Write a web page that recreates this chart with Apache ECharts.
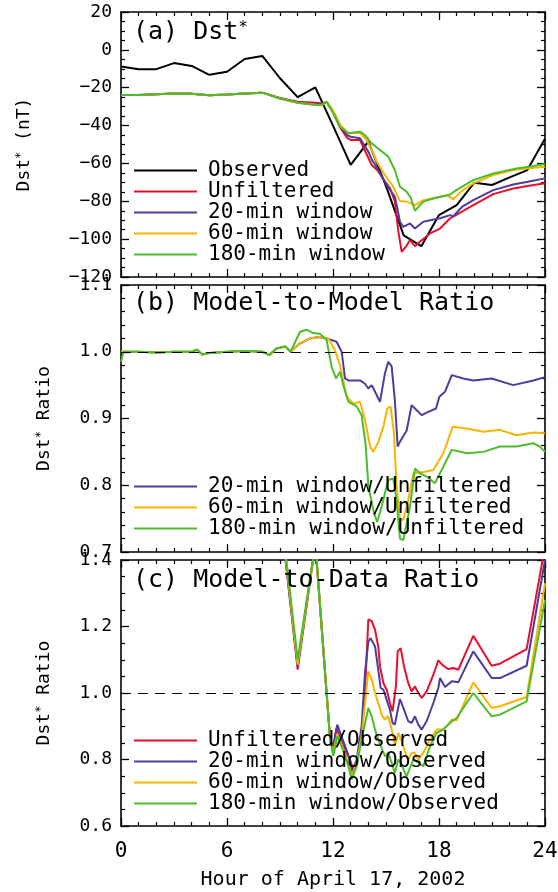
<!DOCTYPE html>
<html><head><meta charset="utf-8">
<script src="https://cdn.jsdelivr.net/npm/echarts@6/dist/echarts.min.js"></script>
<style>html,body{margin:0;padding:0;background:#fff}#c{width:558px;height:892px}</style>
</head><body><div id="c"></div>
<script>
// ---------- DATA ----------
const obsHours = [0,1,2,3,4,5,6,7,8,9,10,11,12,13,14,15,16,17,18,19,20,21,22,23,24];
const obsDst = [-8.8,-10.2,-10.2,-7.0,-8.5,-13.2,-11.6,-4.8,-3.2,-15.0,-25.0,-19.8,-40.0,-60.8,-48.5,-72.0,-98.0,-103.7,-87.3,-82.0,-70.2,-71.4,-67.4,-63.5,-47.0];

const unfDst = [[0,-23.8],[1,-23.9],[2,-23.5],[3,-23.0],[4,-23.2],[5,-24.0],[6,-23.6],[7,-23.0],[8,-22.6],[9,-25.4],[10,-27.4],[11,-28.0],[11.4,-28.4],[11.64,-27.4],[12.0,-33.0],[12.4,-41.0],[12.8,-46.5],[13.0,-47.6],[13.53,-47.6],[13.9,-55.0],[14.2,-61.0],[14.5,-63.5],[14.9,-69.0],[15.23,-73.2],[15.5,-80.0],[15.7,-96.0],[15.89,-106.7],[16.13,-104.0],[16.36,-100.5],[16.64,-103.7],[16.92,-101.4],[17.49,-97.0],[18.06,-94.4],[18.63,-89.0],[19.3,-85.5],[19.94,-82.0],[21.07,-76.2],[22.2,-73.2],[23.1,-71.8],[24,-70.5]];
const win20Dst = [[0,-23.8],[1,-23.9],[2,-23.5],[3,-23.0],[4,-23.2],[5,-24.0],[6,-23.6],[7,-23.0],[8,-22.6],[9,-25.6],[10,-27.8],[11,-28.8],[11.4,-29.0],[11.64,-27.4],[12.0,-32.5],[12.4,-40.0],[12.8,-45.0],[13.0,-45.9],[13.53,-46.7],[14.0,-53.8],[14.2,-58.0],[14.47,-62.0],[15.04,-71.4],[15.5,-77.6],[15.65,-84.0],[15.79,-90.8],[15.98,-93.5],[16.36,-91.7],[16.64,-94.4],[17.11,-90.8],[17.5,-90.0],[18.06,-89.0],[18.63,-87.3],[18.8,-88.0],[19.3,-83.0],[19.94,-79.4],[21.07,-74.1],[22.2,-71.1],[23.1,-69.5],[24,-67.9]];
const win60Dst = [[0,-23.8],[1,-23.9],[2,-23.5],[3,-23.0],[4,-23.2],[5,-24.0],[6,-23.6],[7,-23.0],[8,-22.6],[9,-25.7],[10,-27.9],[11,-29.0],[11.4,-29.1],[11.64,-27.4],[12.0,-31.8],[12.4,-39.5],[12.87,-44.0],[13.53,-43.8],[13.9,-47.6],[14.2,-53.0],[14.47,-59.0],[14.94,-66.1],[15.41,-72.3],[15.79,-79.9],[16.17,-80.2],[16.64,-82.0],[17.11,-79.4],[18.06,-77.6],[18.5,-77.0],[18.8,-79.0],[19.3,-74.5],[19.94,-70.5],[21.07,-66.1],[22.2,-63.5],[23.1,-62.5],[24,-61.7]];
const win180Dst = [[0,-23.8],[1,-23.9],[2,-23.5],[3,-23.0],[4,-23.2],[5,-24.0],[6,-23.6],[7,-23.0],[8,-22.6],[9,-25.8],[10,-28.0],[11,-29.1],[11.3,-29.2],[11.64,-27.6],[12.02,-33.5],[12.4,-40.6],[12.87,-44.1],[13.53,-43.2],[13.81,-45.0],[14.19,-49.4],[14.66,-52.9],[15.13,-56.4],[15.5,-63.5],[15.79,-72.3],[16.17,-75.0],[16.4,-78.0],[16.64,-85.0],[17.11,-80.2],[17.68,-78.5],[18.63,-76.4],[19.0,-74.0],[19.94,-68.8],[21.07,-65.3],[22.2,-63.0],[23.34,-61.4],[24,-60.3]];

const r20Unf = [[0,1.0],[1,1.0],[2,0.999],[3,1.0],[4,1.0],[4.3,1.003],[4.6,0.996],[5,0.998],[6,1.0],[7,1.001],[8,1.0],[8.4,0.995],[8.8,1.005],[9.3,1.008],[9.6,1.0],[10.1,1.012],[10.7,1.02],[11.2,1.022],[11.64,1.02],[12.2,1.015],[12.49,1.0],[12.68,0.96],[12.87,0.957],[13.53,0.957],[13.81,0.952],[14.0,0.945],[14.19,0.95],[14.38,0.94],[14.66,0.925],[14.94,0.9675],[15.13,0.985],[15.32,0.978],[15.5,0.928],[15.66,0.858],[15.79,0.865],[16.17,0.882],[16.45,0.92],[16.64,0.915],[17.02,0.905],[17.39,0.91],[17.83,0.915],[18.02,0.9325],[18.34,0.94],[18.72,0.965],[19.38,0.96],[19.94,0.957],[20.98,0.96],[22.2,0.95],[23.34,0.957],[24,0.962]];
const r60Unf = [[0,1.0],[1,1.0],[2,0.999],[3,1.0],[4,1.0],[4.3,1.003],[4.6,0.996],[5,0.998],[6,1.0],[7,1.001],[8,1.0],[8.4,0.995],[8.8,1.005],[9.3,1.008],[9.6,1.0],[10.13,1.0125],[10.7,1.02],[11.2,1.022],[11.73,1.02],[12.11,1.0025],[12.4,0.98],[12.77,0.9325],[13.15,0.922],[13.53,0.925],[13.81,0.898],[14.1,0.858],[14.28,0.85],[14.57,0.865],[14.85,0.8875],[15.07,0.915],[15.26,0.918],[15.45,0.878],[15.6,0.798],[15.79,0.75],[15.98,0.748],[16.26,0.778],[16.55,0.818],[17.11,0.82],[17.68,0.823],[18.25,0.848],[18.77,0.8875],[19.57,0.885],[20.51,0.88],[21.45,0.883],[22.39,0.875],[23.34,0.879],[24,0.878]];
const r180Unf = [[0,0.985],[0.15,1.0],[1,1.0],[2,0.999],[3,1.0],[4,1.0],[4.3,1.003],[4.6,0.996],[5,0.998],[6,1.0],[7,1.001],[8,1.0],[8.4,0.995],[8.8,1.005],[9.3,1.008],[9.6,1.0],[10.13,1.03],[10.5,1.033],[10.88,1.028],[11.26,1.027],[11.64,1.0175],[11.92,0.9775],[12.17,0.96],[12.4,0.97],[12.58,0.95],[12.87,0.925],[13.34,0.918],[13.62,0.905],[13.85,0.86],[14.0,0.8],[14.3,0.76],[14.5,0.745],[14.75,0.768],[15.13,0.808],[15.41,0.81],[15.6,0.777],[15.79,0.72],[15.98,0.718],[16.36,0.768],[16.64,0.825],[16.92,0.818],[17.3,0.813],[17.77,0.803],[18.25,0.828],[18.72,0.853],[19.57,0.848],[20.51,0.85],[21.45,0.858],[22.39,0.858],[23.34,0.863],[23.7,0.858],[24,0.85]];

const rUnfObs = [[9,1.55],[10,1.07],[11,1.45],[11.83,0.865],[12.0,0.83],[12.2,0.895],[12.58,0.84],[12.96,0.80],[13.15,0.77],[13.34,0.79],[13.62,0.87],[13.81,1.0],[14.0,1.221],[14.19,1.216],[14.38,1.19],[14.56,1.14],[14.66,1.08],[14.85,1.03],[15.04,1.01],[15.22,0.97],[15.37,0.945],[15.56,1.02],[15.66,1.125],[15.83,1.135],[16.02,1.08],[16.26,1.03],[16.45,1.005],[16.64,1.02],[16.83,1.0],[17.02,0.985],[17.3,1.005],[17.68,1.055],[17.96,1.098],[18.24,1.082],[18.53,1.072],[18.81,1.075],[19.09,1.07],[19.94,1.172],[20.98,1.082],[21.45,1.088],[22.96,1.132],[24,1.44]];
const r20Obs = [[9,1.55],[10,1.08],[11,1.45],[11.83,0.865],[12.0,0.835],[12.24,0.905],[12.58,0.855],[12.96,0.80],[13.05,0.76],[13.34,0.80],[13.62,0.9],[13.81,1.06],[14.0,1.155],[14.13,1.165],[14.38,1.14],[14.56,1.07],[14.7,1.015],[14.85,1.01],[15.22,0.95],[15.37,0.91],[15.5,0.905],[15.79,0.982],[16.02,0.95],[16.26,0.915],[16.45,0.91],[16.64,0.93],[16.83,0.905],[17.02,0.89],[17.3,0.915],[17.68,0.97],[17.96,1.015],[18.06,1.045],[18.34,1.018],[18.72,1.035],[19.09,1.032],[19.94,1.125],[20.98,1.045],[21.45,1.045],[22.96,1.082],[24,1.40]];
const r60Obs = [[9,1.56],[10,1.085],[11,1.45],[11.83,0.865],[12.0,0.82],[12.25,0.875],[12.55,0.835],[12.87,0.79],[13.06,0.75],[13.34,0.79],[13.62,0.87],[14.0,1.065],[14.19,1.04],[14.38,1.0],[14.56,0.97],[14.75,0.935],[14.94,0.92],[15.13,0.93],[15.32,0.89],[15.45,0.86],[15.5,0.84],[15.7,0.88],[15.88,0.855],[16.07,0.825],[16.26,0.8],[16.45,0.82],[16.64,0.82],[16.83,0.8],[17.11,0.82],[17.49,0.86],[17.87,0.89],[18.24,0.89],[18.53,0.905],[18.72,0.92],[19.0,0.918],[19.94,1.032],[20.98,0.955],[21.45,0.96],[22.96,0.988],[24,1.33]];
const r180Obs = [[9,1.57],[10,1.1],[11,1.45],[11.83,0.865],[12.02,0.81],[12.25,0.87],[12.55,0.83],[12.87,0.78],[13.06,0.74],[13.34,0.78],[13.62,0.86],[14.0,0.955],[14.19,0.93],[14.38,0.89],[14.56,0.86],[14.75,0.835],[14.94,0.81],[15.13,0.82],[15.32,0.79],[15.5,0.76],[15.7,0.8],[15.88,0.785],[16.07,0.76],[16.17,0.75],[16.55,0.8],[16.83,0.79],[17.11,0.78],[17.49,0.84],[17.87,0.88],[18.24,0.89],[18.62,0.91],[19.0,0.925],[19.94,1.0],[20.98,0.93],[21.45,0.935],[22.96,0.975],[24,1.28]];

const refRatio = 1.0;
const xTicks = [0, 6, 12, 18, 24];

// ---------- CHART ----------
const MONO = '"DejaVu Sans Mono", "Liberation Mono", monospace';
const C = { obs:'#000000', unf:'#e6102e', w20:'#4b3d9e', w60:'#f7b500', w180:'#4cbd2a' };
const chart = echarts.init(document.getElementById('c'), null, {renderer:'canvas'});

const grids = [
  {left:121, top:12, width:424, height:265},
  {left:121, top:285, width:424, height:267},
  {left:121, top:560, width:424, height:266}
].map(g => Object.assign(g, {outerBoundsMode:'none', containLabel:false}));

const lineSt = {color:'#000', width:1.6};
function xAx(gi, pos, showLabel) {
  return {
    type:'value', gridIndex:gi, position:pos, min:xTicks[0], max:xTicks[xTicks.length-1], interval:6,
    axisLine:{show:true, onZero:false, lineStyle:lineSt},
    axisTick:{show:true, inside:true, length:8, lineStyle:{color:'#000', width:1.3}},
    minorTick:{show:true, splitNumber:6, length:4, lineStyle:{color:'#000', width:1.2}},
    splitLine:{show:false}, minorSplitLine:{show:false},
    axisLabel:{show:showLabel, color:'#000', fontFamily:MONO, fontSize:21, margin:15, showMinLabel:true, showMaxLabel:true},
    name: showLabel ? 'Hour of April 17, 2002' : '',
    nameLocation:'middle', nameGap:44,
    nameTextStyle:{color:'#000', fontFamily:MONO, fontSize:20}
  };
}
const supRich = {m:{fontFamily:MONO, fontSize:18, color:'#000'}, s:{fontFamily:MONO, fontSize:12, color:'#000', verticalAlign:'top', lineHeight:14}};
function yAx(gi, pos, min, max, interval, minorSplit, fmt, name, gap) {
  return {
    type:'value', gridIndex:gi, position:pos, min:min, max:max, interval:interval,
    axisLine:{show:true, onZero:false, lineStyle:lineSt},
    axisTick:{show:true, inside:true, length:8, lineStyle:{color:'#000', width:1.3}},
    minorTick:{show:true, splitNumber:minorSplit, length:4, lineStyle:{color:'#000', width:1.2}},
    splitLine:{show:false}, minorSplitLine:{show:false},
    axisLabel:{show:pos==='left', color:'#000', fontFamily:MONO, fontSize:18, margin:9, formatter:fmt, showMinLabel:true, showMaxLabel:true},
    name: pos==='left' ? name : '', nameLocation:'middle', nameGap:gap,
    nameTextStyle:{color:'#000', fontFamily:MONO, fontSize:18, rich:supRich}
  };
}
const fmtA = v => v < 0 ? '\u2212' + Math.abs(v) : String(v);
const fmt1 = v => v.toFixed(1);

const xAxes = [], yAxes = [];
for (let i = 0; i < 3; i++) {
  xAxes.push(xAx(i, 'bottom', i === 2));
  xAxes.push(xAx(i, 'top', false));
}
yAxes.push(yAx(0,'left',-120,20,20,4,fmtA,'{m|Dst}{s|*}{m| (nT)}',88));
yAxes.push(yAx(0,'right',-120,20,20,4,fmtA,'',0));
yAxes.push(yAx(1,'left',0.7,1.1,0.1,5,fmt1,'{m|Dst}{s|*}{m| Ratio}',68));
yAxes.push(yAx(1,'right',0.7,1.1,0.1,5,fmt1,'',0));
yAxes.push(yAx(2,'left',0.6,1.4,0.2,4,fmt1,'{m|Dst}{s|*}{m| Ratio}',68));
yAxes.push(yAx(2,'right',0.6,1.4,0.2,4,fmt1,'',0));

const dashLine = {silent:true, symbol:['none','none'], label:{show:false}, animation:false,
  lineStyle:{color:'#000', type:[10,7], width:1.2}, data:[{yAxis:refRatio}]};

function ser(name, data, color, gi, extra) {
  return Object.assign({
    type:'line', name:name, data:data, xAxisIndex:gi*2, yAxisIndex:gi*2,
    symbol:'none', showSymbol:false, smooth:false, clip:true, animation:false,
    lineStyle:{color:color, width:2}, itemStyle:{color:color}, emphasis:{disabled:true}
  }, extra || {});
}

const series = [
  ser('Observed', obsHours.map((h,i)=>[h, obsDst[i]]), C.obs, 0),
  ser('Unfiltered', unfDst, C.unf, 0),
  ser('20-min window', win20Dst, C.w20, 0),
  ser('60-min window', win60Dst, C.w60, 0),
  ser('180-min window', win180Dst, C.w180, 0),
  ser('20-min window/Unfiltered', r20Unf, C.w20, 1, {markLine:dashLine}),
  ser('60-min window/Unfiltered', r60Unf, C.w60, 1),
  ser('180-min window/Unfiltered', r180Unf, C.w180, 1),
  ser('Unfiltered/Observed', rUnfObs, C.unf, 2, {markLine:dashLine}),
  ser('20-min window/Observed', r20Obs, C.w20, 2),
  ser('60-min window/Observed', r60Obs, C.w60, 2),
  ser('180-min window/Observed', r180Obs, C.w180, 2)
];

function leg(top, names) {
  return {
    left:134, top:top, orient:'vertical', data:names, icon:'rect', itemWidth:63, itemHeight:2, itemGap:0,
    padding:0, selectedMode:false, backgroundColor:'transparent',
    textStyle:{color:'#000', fontFamily:MONO, fontSize:21, lineHeight:21, padding:[0,0,0,6]}
  };
}
const legends = [
  leg(160, ['Observed','Unfiltered','20-min window','60-min window','180-min window']),
  leg(476, ['20-min window/Unfiltered','60-min window/Unfiltered','180-min window/Unfiltered']),
  leg(730, ['Unfiltered/Observed','20-min window/Observed','60-min window/Observed','180-min window/Observed'])
];

const titleRich = {t:{fontFamily:MONO, fontSize:25, color:'#000'}, s:{fontFamily:MONO, fontSize:16, color:'#000', verticalAlign:'top', lineHeight:18}};
function ttl(top, txt) {
  return {left:133, top:top, padding:0, text:txt, textStyle:{fontFamily:MONO, fontSize:25, fontWeight:'normal', color:'#000', rich:titleRich}};
}
const titles = [
  ttl(20, '{t|(a) Dst}{s|*}'),
  ttl(291, '{t|(b) Model-to-Model Ratio}'),
  ttl(568, '{t|(c) Model-to-Data Ratio}')
];

chart.setOption({
  animation:false,
  backgroundColor:'#ffffff',
  title:titles,
  grid:grids,
  xAxis:xAxes,
  yAxis:yAxes,
  legend:legends,
  series:series
});
</script></body></html>
